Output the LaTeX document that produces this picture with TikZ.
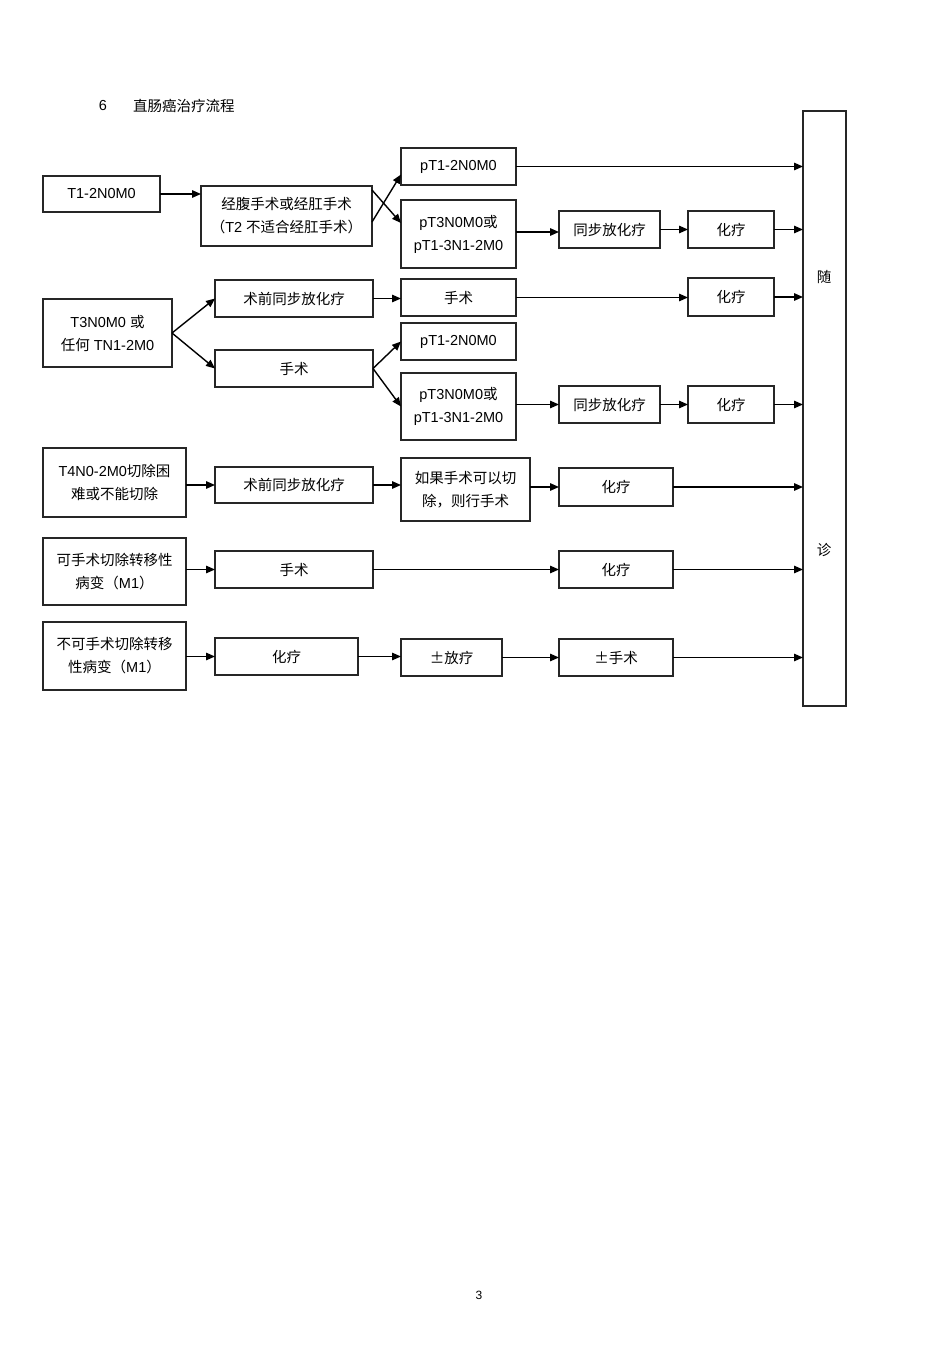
\documentclass[tikz,border=0pt]{standalone}
\usepackage{fontspec}
\setmainfont{Liberation Sans}
\newfontfamily\cjk{Noto Sans CJK SC}
\newcommand\zh[1]{{\cjk #1}}
\usetikzlibrary{arrows.meta}
\newcommand\bx[7][]{\node[box,#1,minimum width={(#4-#2)*1pt},minimum height={(#5-#3)*1pt}] (#6) at ({(#2+#4)/2},{-(#3+#5)/2}) {#7};}
\tikzset{
  box/.style={draw=black!85,line width=1.1pt,inner sep=0pt,outer sep=0pt,align=center,font=\fontsize{14.5}{23}\selectfont},
  thick box/.style={line width=1.8pt},
  arr/.style={line width=1.4pt,-{Triangle[length=9pt,width=7.5pt]}},
  lbl/.style={inner sep=0pt,font=\fontsize{14.5}{17}\selectfont}
}
\begin{document}
\begin{tikzpicture}[x=1pt,y=1pt]
\useasboundingbox (0,0) rectangle (950,-1345);
\node[lbl] (num) at (103,-106) {6};
\node[lbl,anchor=west] (title) at (133,-106) {\zh{直肠癌治疗流程}};
\node[lbl,font=\fontsize{12}{14}\selectfont] (page) at (479,-1295) {3};
% row 1
\bx{43}{176}{160}{212}{t1}{T1-2N0M0}
\bx{201}{186}{372}{246}{jf}{\zh{经腹手术或经肛手术}\\\zh{（}T2 \zh{不适合经肛手术）}}
\bx[thick box]{401}{148}{516}{185}{p1a}{pT1-2N0M0}
\bx[thick box]{401}{200}{516}{268}{p3a}{pT3N0M0\zh{或}\\pT1-3N1-2M0}
\bx{559}{211}{660}{248}{tba}{\zh{同步放化疗}}
\bx{688}{211}{774}{248}{hla}{\zh{化疗}}
\bx[line width=1.5pt]{803}{111}{846}{706}{sui}{}
\node[lbl] (sui1) at (824,-277) {\zh{随}};
\node[lbl] (sui2) at (824,-550) {\zh{诊}};
% row 2
\bx{43}{299}{172}{367}{t3}{T3N0M0 \zh{或}\\\zh{任何} TN1-2M0}
\bx{215}{280}{373}{317}{sqb}{\zh{术前同步放化疗}}
\bx{215}{350}{373}{387}{ssb}{\zh{手术}}
\bx[thick box]{401}{279}{516}{316}{ssr}{\zh{手术}}
\bx{401}{323}{516}{360}{p1b}{pT1-2N0M0}
\bx[thick box]{401}{373}{516}{440}{p3b}{pT3N0M0\zh{或}\\pT1-3N1-2M0}
\bx{559}{386}{660}{423}{tbb}{\zh{同步放化疗}}
\bx{688}{278}{774}{316}{hlb1}{\zh{化疗}}
\bx{688}{386}{774}{423}{hlb2}{\zh{化疗}}
% row 3
\bx{43}{448}{186}{517}{t4}{T4N0-2M0\zh{切除困}\\\zh{难或不能切除}}
\bx{215}{467}{373}{503}{sqc}{\zh{术前同步放化疗}}
\bx{401}{458}{530}{521}{rgc}{\zh{如果手术可以切}\\\zh{除，则行手术}}
\bx{559}{468}{673}{506}{hlc}{\zh{化疗}}
% row 4
\bx{43}{538}{186}{605}{ks}{\zh{可手术切除转移性}\\\zh{病变（}M1\zh{）}}
\bx{215}{551}{373}{588}{ssd}{\zh{手术}}
\bx{559}{551}{673}{588}{hld}{\zh{化疗}}
% row 5
\bx{43}{622}{186}{690}{bk}{\zh{不可手术切除转移}\\\zh{性病变（}M1\zh{）}}
\bx{215}{638}{358}{675}{hle}{\zh{化疗}}
\bx{401}{639}{502}{676}{fl}{\zh{±放疗}}
\bx{559}{639}{673}{676}{ss3}{\zh{±手术}}
% connectors row 1
\draw[arr] (t1.east) -- (t1.east -| jf.west);
\draw[arr] ([yshift=-6pt]jf.east) -- ([yshift=-8pt]p1a.west);
\draw[arr] ([yshift=26pt]jf.east) -- ([yshift=11pt]p3a.west);
\draw[arr] (p1a.east) -- (p1a.east -| sui.west);
\draw[arr] ([yshift=2pt]p3a.east) -- ([yshift=2pt]p3a.east -| tba.west);
\draw[arr] (tba.east) -- (tba.east -| hla.west);
\draw[arr] (hla.east) -- (hla.east -| sui.west);
% row 2
\draw[arr] (t3.east) -- (sqb.west);
\draw[arr] (t3.east) -- (ssb.west);
\draw[arr] (sqb.east) -- (sqb.east -| ssr.west);
\draw[arr] (ssr.east) -- (ssr.east -| hlb1.west);
\draw[arr] (hlb1.east) -- (hlb1.east -| sui.west);
\draw[arr] (ssb.east) -- (p1b.west);
\draw[arr] (ssb.east) -- (p3b.west);
\draw[arr] (p3b.east |- tbb.west) -- (tbb.west);
\draw[arr] (tbb.east) -- (tbb.east -| hlb2.west);
\draw[arr] (hlb2.east) -- (hlb2.east -| sui.west);
% row 3
\draw[arr] (t4.east |- sqc.west) -- (sqc.west);
\draw[arr] (sqc.east) -- (sqc.east -| rgc.west);
\draw[arr] (rgc.east |- hlc.west) -- (hlc.west);
\draw[arr] (hlc.east) -- (hlc.east -| sui.west);
% row 4
\draw[arr] (ks.east |- ssd.west) -- (ssd.west);
\draw[arr] (ssd.east) -- (ssd.east -| hld.west);
\draw[arr] (hld.east) -- (hld.east -| sui.west);
% row 5
\draw[arr] (bk.east |- hle.west) -- (hle.west);
\draw[arr] (hle.east) -- (hle.east -| fl.west);
\draw[arr] (fl.east) -- (fl.east -| ss3.west);
\draw[arr] (ss3.east) -- (ss3.east -| sui.west);
\end{tikzpicture}
\end{document}
